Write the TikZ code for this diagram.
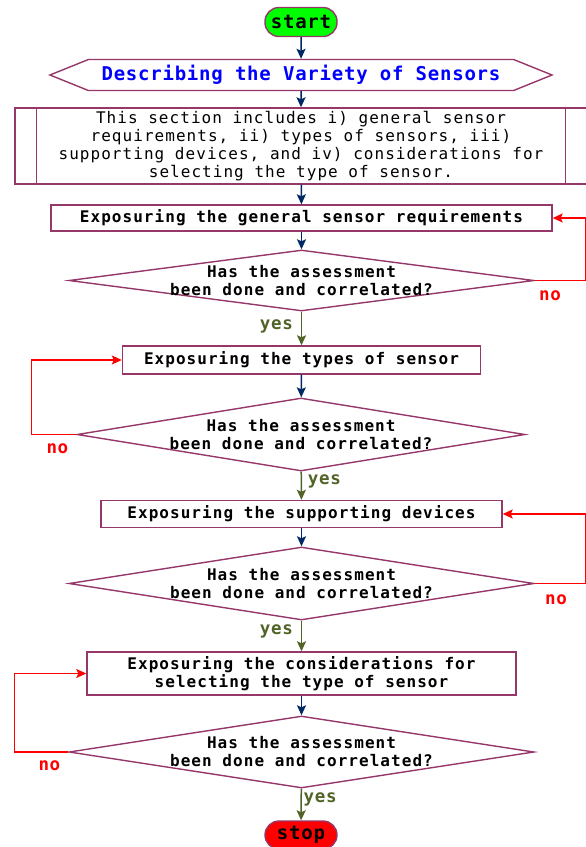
\documentclass[tikz,border=0pt]{standalone}
\usepackage{fontspec}
\newfontfamily\flowfont{DejaVu Sans Mono}[LetterSpace=6.5]
\newfontfamily\headfont{DejaVu Sans Mono}[LetterSpace=4]
\usetikzlibrary{shapes, arrows.meta}
\definecolor{flowborder}{RGB}{150,55,105}
\definecolor{flownavy}{RGB}{0,40,100}
\definecolor{flowolive}{RGB}{80,100,40}
\definecolor{flowblue}{RGB}{0,0,255}

\begin{document}
\begin{tikzpicture}[x=1pt, y=-1pt,
    terminal/.style={rectangle, draw=flowborder, line width=1.4pt, rounded corners=14pt,
        minimum width=72pt, minimum height=28pt, inner sep=0pt, text=black,
        font=\headfont\bfseries\fontsize{19}{20}\selectfont},
    header/.style={signal, signal to=west and east, signal pointer angle=44, draw=flowborder,
        line width=1.4pt, minimum width=502pt, minimum height=31pt, inner sep=0pt,
        text=flowblue, font=\headfont\bfseries\fontsize{19}{20}\selectfont},
    section/.style={rectangle, draw=flowborder, line width=1.4pt, minimum width=572pt,
        minimum height=76pt, inner sep=0pt, align=center, text=black,
        font=\flowfont\fontsize{16}{18}\selectfont},
    process/.style={rectangle, draw=flowborder, line width=1.4pt, inner sep=0pt,
        align=center, text=black, font=\flowfont\bfseries\fontsize{16}{18}\selectfont},
    question/.style={diamond, draw=flowborder, line width=1.4pt, inner xsep=-120pt,
        inner ysep=-16pt, minimum width=465pt, minimum height=73pt, align=center,
        text=black, font=\flowfont\bfseries\fontsize{16}{18}\selectfont},
    link/.style={draw=flownavy, line width=1.5pt, -{Stealth[length=10pt, width=9pt, inset=2pt]}},
    yesline/.style={link, draw=flowolive},
    noline/.style={link, draw=red},
    yeslabel/.style={text=flowolive, inner sep=0pt, font=\headfont\bfseries\fontsize{17.5}{18}\selectfont},
    nolabel/.style={text=red, inner sep=0pt, font=\headfont\bfseries\fontsize{17.5}{18}\selectfont}
]
\useasboundingbox (0,0) rectangle (586,847);

\node (T00) [terminal, fill=green, minimum height=29pt] at (301,22) {start};
\node (H01) [header] at (301,75) {Describing the Variety of Sensors};
\node (S01) [section] at (301,146) {This section includes i) general sensor\\
    requirements, ii) types of sensors, iii)\\
    supporting devices, and iv) considerations for\\
    selecting the type of sensor.};
\draw [draw=flowborder, line width=1.4pt] ([xshift=22pt]S01.north west) -- ([xshift=22pt]S01.south west);
\draw [draw=flowborder, line width=1.4pt] ([xshift=-22pt]S01.north east) -- ([xshift=-22pt]S01.south east);

\node (P01) [process, minimum width=501pt, minimum height=26pt] at (301.5,218)
    {Exposuring the general sensor requirements};
\node (Q01) [question, minimum height=61pt] at (301.5,280.5)
    {Has the assessment\\been done and correlated?};
\node (P02) [process, minimum width=358pt, minimum height=28pt] at (301.5,360)
    {Exposuring the types of sensor};
\node (Q02) [question, minimum width=448pt] at (301,434.5)
    {Has the assessment\\been done and correlated?};
\node (P03) [process, minimum width=401pt, minimum height=27pt] at (301.5,514)
    {Exposuring the supporting devices};
\node (Q03) [question] at (301.5,583.5)
    {Has the assessment\\been done and correlated?};
\node (P04) [process, minimum width=429pt, minimum height=43pt] at (301.5,673.5)
    {Exposuring the considerations for\\selecting the type of sensor};
\node (Q04) [question, minimum height=72pt] at (301.5,752)
    {Has the assessment\\been done and correlated?};
\node (T05) [terminal, fill=red] at (301,835) {stop};

% main flow
\draw [link] (T00) -- (H01);
\draw [link] (H01) -- (S01);
\draw [link] (S01) -- (P01);
\draw [link] (P01) -- (Q01);
\draw [link] (P02) -- (Q02);
\draw [link] (P03) -- (Q03);
\draw [link] (P04) -- (Q04);

% yes branches
\draw [yesline] (Q01) -- node [yeslabel, midway, xshift=-25pt, yshift=2pt] {yes} (P02);
\draw [yesline] (Q02) -- node [yeslabel, midway, xshift=23pt, yshift=4pt] {yes} (P03);
\draw [yesline] (Q03) -- node [yeslabel, midway, xshift=-25pt, yshift=5pt] {yes} (P04);
\draw [yesline] (Q04) -- node [yeslabel, midway, xshift=19pt, yshift=5pt] {yes} (T05);

% no branches
\draw [noline] (Q01.east) -- node [nolabel, pos=0.3, yshift=-15pt] {no} ++(51,0) |- (P01.east);
\draw [noline] (Q02.west) -- node [nolabel, pos=0.42, yshift=-14pt] {no} ++(-45,0) |- (P02.west);
\draw [noline] (Q03.east) -- node [nolabel, pos=0.42, yshift=-16pt] {no} ++(51,0) |- (P03.east);
\draw [noline] (Q04.west) -- node [nolabel, pos=0.35, yshift=-14pt] {no} ++(-54,0) |- (P04.west);

\end{tikzpicture}
\end{document}
